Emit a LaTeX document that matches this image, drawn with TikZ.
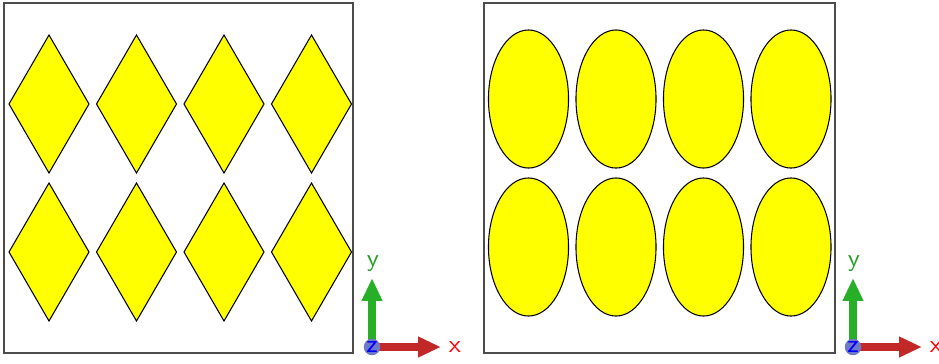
\documentclass[tikz,border=0pt]{standalone}
\usetikzlibrary{arrows.meta}
\definecolor{jaune}{RGB}{255,255,0}
\definecolor{vertaxe}{RGB}{40,175,40}
\definecolor{rougeaxe}{RGB}{195,40,40}
\definecolor{bleuaxe}{RGB}{112,120,200}
\begin{document}
\begin{tikzpicture}[x=0.01cm, y=-0.01cm,
    forme/.style={fill=jaune, draw=black, line width=0.3pt},
    cadre/.style={draw=black!70, line width=0.5pt},
    axe/.style={line width=2pt, -{Triangle[length=6.5pt,width=5.5pt]}},
    lettre/.style={font=\sffamily\fontsize{7}{7}\selectfont, inner sep=0pt}]
    \useasboundingbox (0,0) rectangle (939,363);

    % Cadres
    \draw[cadre] (4,3) rectangle (353,353);
    \draw[cadre] (484,3) rectangle (835,353);

    % Losanges
    \foreach \i in {0,...,3}
      \foreach \j in {104,252}
        \filldraw[forme] ({49+87.5*\i},{\j-69}) -- ++(40,69) -- ++(-40,69) -- ++(-40,-69) -- cycle;

    % Ellipses
    \foreach \i in {0,...,3}
      \foreach \j in {99,247}
        \filldraw[forme] ({528.5+87.5*\i},\j) ellipse [x radius=0.4cm, y radius=0.69cm];

    % Axes
    \foreach \ox/\n in {372/a,853/b} {
      \coordinate (o\n) at (\ox,347);
      \draw[axe, vertaxe] (o\n) -- ++(0,-69);
      \draw[axe, rougeaxe] (o\n) -- ++(69,0);
      \filldraw[bleuaxe] (o\n) circle (0.075cm);
      \node[lettre, text=blue] (z\n) at (o\n) {z};
      \node[lettre, text=vertaxe!90!black] (y\n) at (\ox+1,264) {y};
      \node[lettre, text=red] (x\n) at (\ox+83,347) {x};
    }
\end{tikzpicture}
\end{document}
